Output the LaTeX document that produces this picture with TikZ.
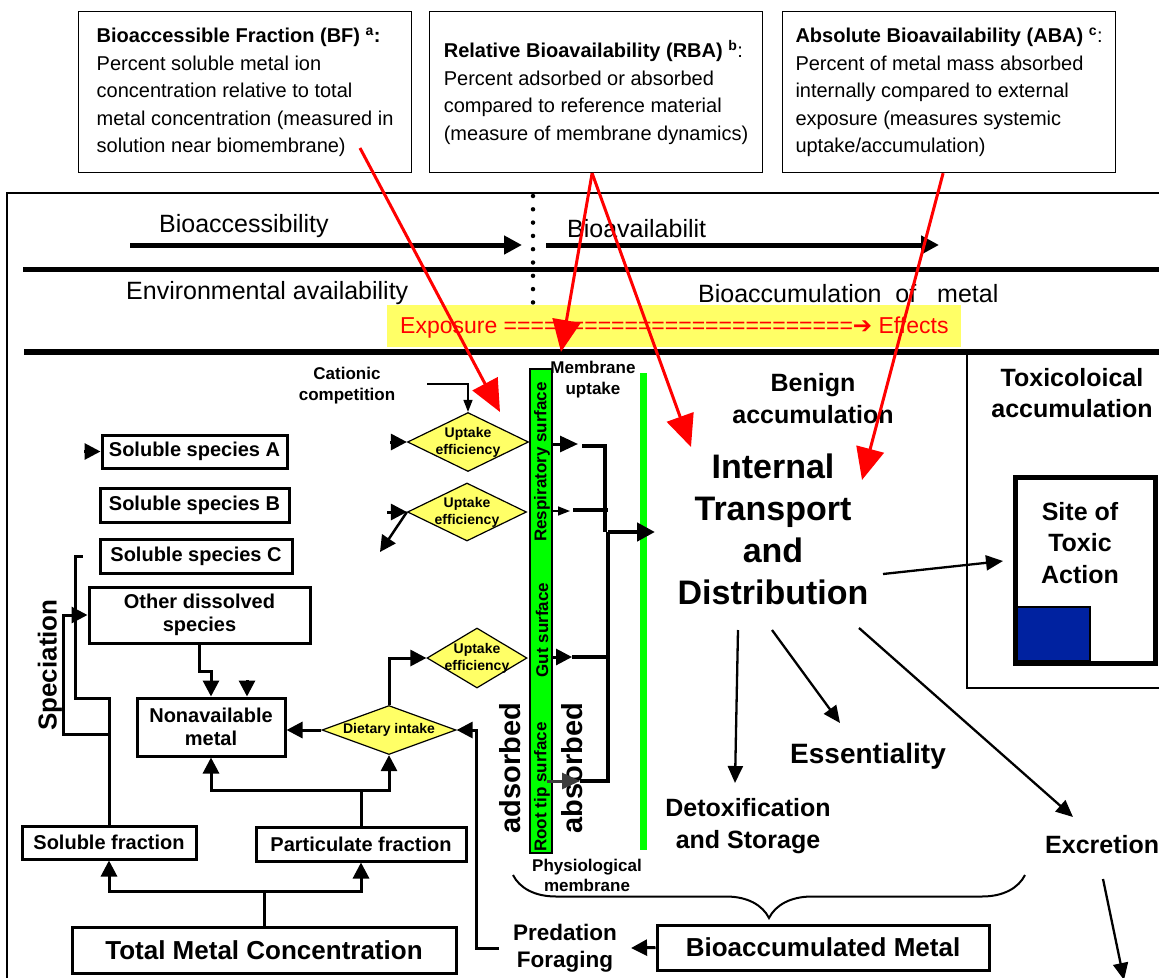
\documentclass[tikz,border=0pt]{standalone}
\usepackage{fontspec}
\setmainfont{Liberation Sans}
\newfontfamily\dvsans{DejaVu Sans}
\usetikzlibrary{arrows.meta}
\usetikzlibrary{shapes.geometric}
\usetikzlibrary{decorations.pathreplacing}

\definecolor{yelo}{RGB}{255,255,102}
\definecolor{grn}{RGB}{0,255,0}
\definecolor{rd}{RGB}{255,0,0}
\definecolor{toxblue}{RGB}{0,34,160}
\definecolor{dgray}{RGB}{60,60,60}

\newcommand{\fsz}[2]{\fontsize{#1}{#2}\selectfont}

\begin{document}
\begin{tikzpicture}[x=1pt,y=1pt,yscale=-1,xscale=1,
	defbox/.style={draw, line width=1.2pt, anchor=north west, minimum width=333pt, minimum height=161pt, inner xsep=4pt, inner ysep=0pt, align=left, font=\fsz{20}{27.5}},
	lbl/.style={inner sep=0pt, font=\fsz{25}{30}},
	bl/.style n args={2}{inner sep=0pt, align=center, font=\bfseries\fsz{#1}{#2}},
	sbox/.style={draw, line width=3pt, inner sep=0pt, align=center, font=\bfseries\fsz{20}{23}},
	diam/.style={diamond, draw, fill=yelo, line width=1.2pt, inner sep=0pt},
	dtxt/.style={inner sep=0pt, align=center, font=\bfseries\fsz{14}{17}},
	conn/.style={line width=3pt, -{Triangle[length=16pt,width=16pt]}},
	fineconn/.style={line width=1.5pt, -{Triangle[length=12pt,width=9pt]}},
	wire/.style={line width=3pt},
	bus/.style={line width=4.5pt},
	bigarr/.style={line width=5pt, -{Triangle[length=18pt,width=18pt]}},
	tarr/.style={line width=2.3pt, -{Triangle[length=17pt,width=15pt]}},
	redarr/.style={draw=rd, line width=3pt, -{Triangle[length=32pt,width=28pt,fill=rd]}},
	dotline/.style={line width=4.5pt, line cap=round, dash pattern=on 0pt off 13.3pt}]
	\useasboundingbox (0,0) rectangle (1159,977);
	\clip (0,0) rectangle (1159,977);

	%Shape: Rectangle [outer frame]
	\draw[line width=1.2pt] (7,193) rectangle (1180,1000);

	% Text Node
	\node[defbox] (bf) at (78,11) {\textbf{Bioaccessible Fraction (BF) \textsuperscript{a}:}\\Percent soluble metal ion\\concentration relative to total\\metal concentration (measured in\\solution near biomembrane)};
	% Text Node
	\node[defbox] (rba) at (429,11) {\textbf{Relative Bioavailability (RBA) \textsuperscript{b}}:\\Percent adsorbed or absorbed\\compared to reference material\\(measure of membrane dynamics)};
	% Text Node
	\node[defbox] (aba) at (782,11) {\textbf{Absolute Bioavailability (ABA) \textsuperscript{c}}:\\Percent of metal mass absorbed\\internally compared to external\\exposure (measures systemic\\uptake/accumulation)};

	% Text Node
	\node[lbl, anchor=west] (bacc) at (159,226) {Bioaccessibility};
	\coordinate (ba0) at (130,245);
	\coordinate (ba1) at (522,245);
	\draw[bigarr] (ba0) -- (ba1);
	% Text Node
	\node[lbl, anchor=west] (bavl) at (567,229) {Bioavailabilit};
	\coordinate (bv0) at (546,245);
	\coordinate (bv1) at (939,245);
	\draw[bigarr] (bv0) -- (bv1);
	%Straight Lines
	\draw[line width=5pt] (23,269) -- (1180,269);
	\draw[dotline] (533,196) -- (533,303);
	% Text Node
	\node[lbl, anchor=west] (envav) at (126,293) {Environmental availability};
	% Text Node
	\node[lbl, anchor=west] (bioac) at (698,294) {Bioaccumulation\ \ of\ \ \ metal};
	%Shape: Rectangle
	\fill[yelo] (387,305) rectangle (961,347);
	% Text Node
	\node[anchor=west, inner sep=0pt, text=rd, font=\fsz{23}{27}] (expo) at (400,328) {Exposure =========================={\dvsans ➔} Effects};
	%Straight Lines
	\draw[line width=6pt] (24,352) -- (1180,352);
	\draw[line width=1.2pt] (967,355) |- (1180,688);

	% left flow chart
	\node[sbox, minimum width=185pt, minimum height=33pt] (sa) at (194.5,451.5) {Soluble species A};
	\node[sbox, minimum width=189pt, minimum height=34pt] (sb) at (194.5,505) {Soluble species B};
	\node[sbox, minimum width=192pt, minimum height=34pt] (sc) at (196,556) {Soluble species C};
	\node[sbox, minimum width=221pt, minimum height=56pt] (ods) at (199.5,615) {Other dissolved\\species};
	\node[sbox, minimum width=148pt, minimum height=58pt] (nam) at (211,727) {Nonavailable\\metal};
	\node[sbox, minimum width=174pt, minimum height=33pt] (sf) at (109,842.5) {Soluble fraction};
	\node[sbox, minimum width=210pt, minimum height=34pt] (pf) at (361,844) {Particulate fraction};
	\node[sbox, minimum width=384pt, minimum height=46pt, font=\bfseries\fsz{26}{30}] (tmc) at (264,950) {Total Metal Concentration};
	\node[bl={26}{30}, rotate=90] (spec) at (50,665) {Speciation};

	%Shape: Diamond
	\node[diam, minimum width=134pt, minimum height=49pt] (di) at (389,730) {};
	\node[dtxt] at (di) {Dietary intake};
	\node[diam, minimum width=121pt, minimum height=59pt] (ue1) at (468,442) {};
	\node[dtxt] at (ue1) {Uptake\\efficiency};
	\node[diam, minimum width=119pt, minimum height=58pt] (ue2) at (467,512) {};
	\node[dtxt] at (ue2) {Uptake\\efficiency};
	\node[diam, minimum width=100pt, minimum height=60pt] (ue3) at (477,658) {};
	\node[dtxt] at (ue3) {Uptake\\efficiency};
	% Text Node
	\node[bl={17}{21}] (cat) at (347,385.5) {Cationic\\competition};

	% membrane
	\node[draw, fill=grn, line width=1.2pt, minimum width=22pt, minimum height=484pt, inner sep=0pt] (mem) at (541,611) {};
	\node[bl={17}{20}, rotate=90] (resp) at (542,462) {Respiratory surface};
	\node[bl={17}{20}, rotate=90] (gut) at (542,630) {Gut surface};
	\node[bl={17}{20}, rotate=90] (root) at (542,787) {Root tip surface};
	\node[bl={17}{21}] (mup) at (593,380) {Membrane\\uptake};
	\draw[grn, line width=7pt] (643,373) -- (643,850);
	\node[bl={29}{32}, rotate=90] (ads) at (510,768) {adsorbed};
	\node[bl={29}{32}, rotate=90] (abs) at (572,768) {absorbed};
	\node[bl={17}{20}] (phys) at (587,875) {Physiological\\membrane};

	% right side
	\node[bl={25}{32}] (benign) at (813,399) {Benign\\accumulation};
	\node[bl={25}{31}] (toxacc) at (1072,393) {Toxicoloical\\accumulation};
	\node[bl={34}{42}] (itd) at (773,529.5) {Internal\\Transport\\and\\Distribution};
	\node[draw, line width=5pt, outer sep=0pt, minimum width=140pt, minimum height=186pt, inner sep=0pt] (site) at (1085,570) {};
	\filldraw[fill=toxblue, line width=1.5pt] ([shift={(2,-2)}]site.south west) rectangle ++(73,-54);
	\node[bl={25}{31.5}] (sitetx) at (1080,543) {Site of\\Toxic\\Action};
	\node[bl={28}{32}] (ess) at (868,756) {Essentiality};
	\node[bl={25}{32}] (detox) at (748,826) {Detoxification\\and Storage};
	\node[bl={25}{30}, anchor=west] (excr) at (1045,845) {Excretion};
	\node[sbox, minimum width=332pt, minimum height=45pt, font=\bfseries\fsz{26}{30}] (bam) at (823,947.5) {Bioaccumulated Metal};
	\node[bl={22.5}{27}, inner xsep=14pt] (pred) at (565,948) {Predation\\Foraging};
	\draw[line width=2pt, decorate, decoration={brace, amplitude=43pt, mirror}] (513,875) -- (1025,875);

	%Straight Lines
	\draw[conn] (tmc.north) -- ++(0,-34) -| (sf.south);
	\draw[conn] (tmc.north) -- ++(0,-34) -| (pf.south);
	\draw[conn] (pf.north) -- ++(0,-35) -| (nam.south);
	\draw[conn] (pf.north) -- ++(0,-35) -| (di.south);
	\coordinate (spc) at (83,556);
	\draw[wire] (sf.north) |- (75,698) |- (spc);
	\draw[conn] (sf.north) |- (63,734) |- (ods.west);
	\draw[conn] (ods.south) -- ++(0,27) -| (nam.north);
	\coordinate (nat) at (247,680);
	\draw[conn] (nat) -- (nat |- nam.north);
	\draw[conn] (di.west) -- (di.west -| nam.east);
	\draw[conn] (di.north) |- (ue3.west);
	\draw[conn] (pred.west) -- ++(-22,0) |- (di.east);
	\draw[conn] (bam.west) -- (pred.east);
	\coordinate (sain) at (84,451.5);
	\draw[conn] (sain) -- (sa.west);
	\coordinate (catx) at (427,384);
	\draw[fineconn] (catx) -| (ue1.north);
	\coordinate (u1in) at (390,442);
	\draw[conn] (u1in) -- (ue1.west);
	\coordinate (u2in) at (387,512);
	\draw[conn] (u2in) -- (ue2.west);
	\coordinate (u2out) at (380,552);
	\draw[conn, line width=2.5pt] (ue2.west) -- (u2out);

	% membrane uptake
	\coordinate (r1) at (578,444);
	\coordinate (r1b) at (582,446);
	\coordinate (r2) at (570,511);
	\coordinate (r2b) at (573,510);
	\coordinate (g1) at (572,657);
	\coordinate (rt0) at (547,781);
	\coordinate (rt) at (580,781);
	\coordinate (j1) at (605,532);
	\coordinate (j2) at (608,532);
	\coordinate (mout) at (655,532);
	\draw[conn, -{Triangle[length=18pt,width=16pt]}] (mem.east |- r1) -- (r1);
	\draw[fineconn] (mem.east |- r2) -- (r2);
	\draw[conn] (mem.east |- g1) -- (g1);
	\draw[conn, dgray, -{Triangle[length=18pt,width=16pt]}] (rt0) -- (rt);
	\draw[bus] (r1b) -| (j1);
	\draw[bus] (r2b) -- (r2b -| j2);
	\draw[bus] (g1) -- (g1 -| j2);
	\draw[bus] (rt) -| (j2);
	\draw[conn, line width=4.5pt, -{Triangle[length=18pt,width=18pt]}] (j2) -- (mout);

	% distribution
	\coordinate (it1) at (738,630);
	\coordinate (dt) at (735,783);
	\coordinate (it2) at (772,630);
	\coordinate (es) at (840,723);
	\coordinate (it3) at (859,628);
	\coordinate (ex) at (1073,817);
	\coordinate (it4) at (883,574);
	\coordinate (st) at (1003,561);
	\coordinate (ex0) at (1103,879);
	\coordinate (ex1) at (1124,980);
	\draw[tarr] (it1) -- (dt);
	\draw[tarr] (it2) -- (es);
	\draw[tarr] (it3) -- (ex);
	\draw[tarr] (it4) -- (st);
	\draw[tarr] (ex0) -- (ex1);

	% red arrows
	\coordinate (bfo) at (360,148);
	\coordinate (bft) at (500,412);
	\coordinate (rt1) at (561,352);
	\coordinate (rt2) at (691,447);
	\coordinate (at1) at (862,480);
	\draw[redarr] (bfo) -- (bft);
	\draw[redarr] ([xshift=-4pt]rba.south) -- (rt1);
	\draw[redarr] ([xshift=-4pt]rba.south) -- (rt2);
	\draw[redarr] ([xshift=-6pt]aba.south) -- (at1);
\end{tikzpicture}
\end{document}
